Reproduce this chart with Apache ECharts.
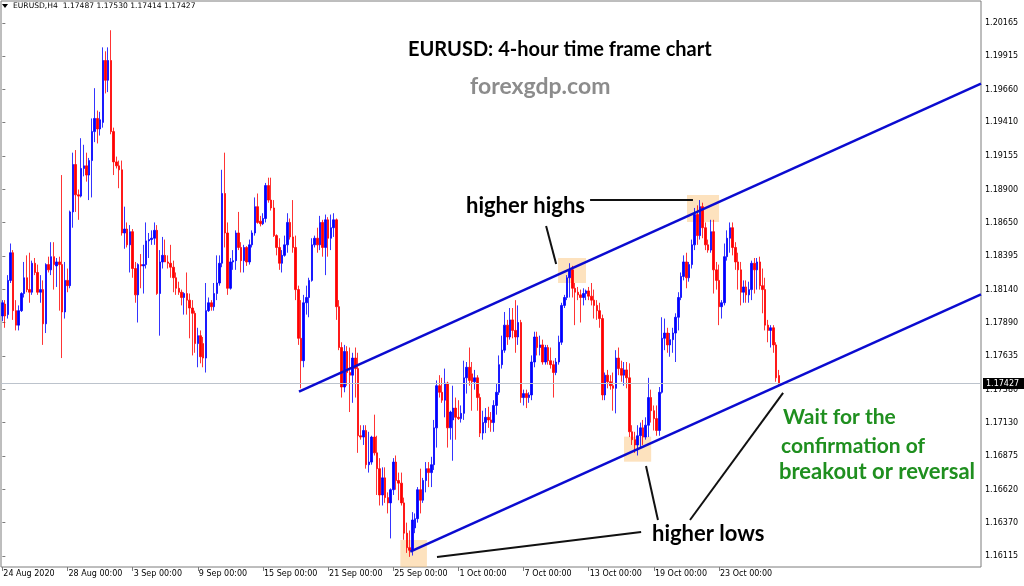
<!DOCTYPE html>
<html><head><meta charset="utf-8">
<script src="https://cdn.jsdelivr.net/npm/echarts@6/dist/echarts.min.js"></script>
<style>html,body{margin:0;padding:0;background:#fff}#c{width:1024px;height:586px}</style>
</head><body><div id="c"></div><script>
// ---- data (EURUSD H4, 24 Aug 2020 00:00 onwards, one value per bar) ----
const opens=[1.1794,1.1803,1.1795,1.1821,1.1842,1.1798,1.1787,1.1798,1.1811,1.1823,
1.1814,1.1812,1.1834,1.1827,1.1812,1.1814,1.1788,1.1833,1.1829,1.1839,
1.1832,1.1835,1.1833,1.1797,1.1821,1.1817,1.1873,1.1909,1.1886,1.1885,
1.1906,1.1908,1.1901,1.1912,1.1934,1.1944,1.1936,1.1941,1.1988,1.1973,
1.1988,1.1934,1.1911,1.1908,1.1905,1.1857,1.1860,1.1848,1.1858,1.1830,
1.1810,1.1833,1.1832,1.1833,1.1851,1.1852,1.1853,1.1859,1.1811,1.1835,
1.1840,1.1835,1.1834,1.1831,1.1823,1.1815,1.1812,1.1808,1.1811,1.1806,
1.1800,1.1796,1.1773,1.1779,1.1773,1.1762,1.1798,1.1804,1.1801,1.1811,
1.1819,1.1834,1.1887,1.1857,1.1815,1.1835,1.1836,1.1857,1.1846,1.1836,
1.1846,1.1835,1.1848,1.1857,1.1877,1.1866,1.1864,1.1868,1.1893,1.1882,
1.1876,1.1855,1.1846,1.1834,1.1840,1.1848,1.1865,1.1854,1.1846,1.1814,
1.1777,1.1760,1.1804,1.1808,1.1821,1.1848,1.1853,1.1848,1.1865,1.1846,
1.1867,1.1853,1.1861,1.1867,1.1801,1.1770,1.1740,1.1767,1.1751,1.1749,
1.1762,1.1754,1.1703,1.1702,1.1707,1.1681,1.1683,1.1702,1.1690,1.1678,
1.1658,1.1671,1.1656,1.1652,1.1662,1.1683,1.1669,1.1667,1.1652,1.1629,
1.1618,1.1616,1.1633,1.1640,1.1662,1.1654,1.1669,1.1678,1.1675,1.1681,
1.1709,1.1741,1.1736,1.1730,1.1743,1.1709,1.1715,1.1724,1.1717,1.1716,
1.1720,1.1747,1.1755,1.1750,1.1744,1.1747,1.1732,1.1705,1.1713,1.1717,
1.1715,1.1713,1.1726,1.1736,1.1757,1.1768,1.1787,1.1778,1.1791,1.1783,
1.1778,1.1789,1.1732,1.1735,1.1732,1.1734,1.1759,1.1778,1.1770,1.1772,
1.1759,1.1770,1.1760,1.1757,1.1751,1.1759,1.1774,1.1802,1.1808,1.1823,
1.1829,1.1815,1.1812,1.1810,1.1808,1.1811,1.1813,1.1809,1.1806,1.1802,
1.1798,1.1792,1.1734,1.1749,1.1744,1.1741,1.1739,1.1762,1.1754,1.1749,
1.1753,1.1747,1.1706,1.1700,1.1696,1.1703,1.1709,1.1702,1.1711,1.1732,
1.1722,1.1716,1.1707,1.1736,1.1777,1.1781,1.1772,1.1776,1.1781,1.1793,
1.1808,1.1824,1.1835,1.1823,1.1833,1.1848,1.1871,1.1855,1.1877,1.1861,
1.1848,1.1844,1.1858,1.1829,1.1821,1.1801,1.1804,1.1839,1.1853,1.1861,
1.1846,1.1835,1.1829,1.1812,1.1816,1.1810,1.1814,1.1834,1.1829,1.1835,
1.1817,1.1814,1.1787,1.1783,1.1785,1.1772,1.17487];
const highs=[1.1806,1.1806,1.1825,1.1849,1.1844,1.1806,1.1802,1.1812,1.1835,1.1840,
1.1842,1.1836,1.1838,1.1833,1.1825,1.1821,1.1834,1.1839,1.1850,1.1850,
1.1838,1.1839,1.1901,1.1835,1.1830,1.1874,1.1918,1.1920,1.1890,1.1929,
1.1924,1.1918,1.1914,1.1944,1.1967,1.1950,1.1949,1.1998,1.1995,1.1998,
1.2011,1.1937,1.1915,1.1912,1.1912,1.1877,1.1865,1.1863,1.1860,1.1835,
1.1834,1.1841,1.1848,1.1865,1.1857,1.1859,1.1865,1.1863,1.1844,1.1854,
1.1852,1.1840,1.1848,1.1836,1.1827,1.1820,1.1814,1.1812,1.1827,1.1811,
1.1806,1.1798,1.1785,1.1783,1.1778,1.1819,1.1808,1.1806,1.1819,1.1840,
1.1840,1.1905,1.1918,1.1865,1.1838,1.1844,1.1859,1.1873,1.1850,1.1848,
1.1847,1.1852,1.1859,1.1884,1.1887,1.1870,1.1872,1.1895,1.1899,1.1899,
1.1882,1.1856,1.1853,1.1844,1.1855,1.1872,1.1868,1.1882,1.1855,1.1817,
1.1806,1.1810,1.1817,1.1823,1.1853,1.1855,1.1861,1.1870,1.1867,1.1871,
1.1869,1.1871,1.1872,1.1868,1.1806,1.1774,1.1772,1.1771,1.1770,1.1766,
1.1770,1.1766,1.1711,1.1711,1.1711,1.1706,1.1703,1.1719,1.1703,1.1686,
1.1679,1.1679,1.1660,1.1663,1.1686,1.1688,1.1675,1.1675,1.1656,1.1637,
1.1631,1.1645,1.1644,1.1664,1.1678,1.1671,1.1683,1.1683,1.1687,1.1715,
1.1745,1.1749,1.1747,1.1754,1.1744,1.1722,1.1741,1.1732,1.1730,1.1726,
1.1760,1.1759,1.1770,1.1759,1.1753,1.1749,1.1735,1.1722,1.1724,1.1725,
1.1721,1.1730,1.1743,1.1764,1.1779,1.1797,1.1791,1.1800,1.1800,1.1806,
1.1802,1.1791,1.1738,1.1738,1.1736,1.1764,1.1782,1.1782,1.1779,1.1776,
1.1772,1.1772,1.1770,1.1760,1.1762,1.1779,1.1804,1.1810,1.1825,1.1834,
1.1832,1.1819,1.1816,1.1814,1.1815,1.1814,1.1816,1.1819,1.1814,1.1806,
1.1804,1.1795,1.1751,1.1753,1.1749,1.1751,1.1768,1.1770,1.1760,1.1759,
1.1759,1.1758,1.1711,1.1706,1.1711,1.1713,1.1715,1.1717,1.1747,1.1738,
1.1726,1.1726,1.1740,1.1793,1.1792,1.1785,1.1781,1.1785,1.1796,1.1812,
1.1827,1.1840,1.1842,1.1835,1.1852,1.1876,1.1878,1.1882,1.1880,1.1865,
1.1852,1.1867,1.1867,1.1835,1.1833,1.1806,1.1849,1.1859,1.1865,1.1865,
1.1850,1.1842,1.1835,1.1821,1.1821,1.1820,1.1836,1.1838,1.1838,1.1839,
1.1830,1.1823,1.1791,1.1787,1.1787,1.1774,1.17530];
const lows=[1.1790,1.1785,1.1792,1.1819,1.1791,1.1783,1.1783,1.1797,1.1808,1.1812,
1.1804,1.1810,1.1825,1.1810,1.1804,1.1772,1.1781,1.1827,1.1825,1.1814,
1.1816,1.1798,1.1762,1.1792,1.1812,1.1815,1.1861,1.1873,1.1867,1.1884,
1.1900,1.1896,1.1882,1.1884,1.1926,1.1925,1.1931,1.1937,1.1963,1.1964,
1.1932,1.1901,1.1906,1.1891,1.1855,1.1845,1.1846,1.1827,1.1823,1.1804,
1.1789,1.1815,1.1811,1.1830,1.1838,1.1848,1.1848,1.1810,1.1779,1.1830,
1.1835,1.1830,1.1823,1.1812,1.1810,1.1810,1.1802,1.1795,1.1795,1.1777,
1.1764,1.1766,1.1755,1.1758,1.1755,1.1751,1.1797,1.1798,1.1798,1.1806,
1.1817,1.1831,1.1846,1.1810,1.1814,1.1829,1.1829,1.1844,1.1827,1.1827,
1.1832,1.1833,1.1846,1.1855,1.1864,1.1862,1.1863,1.1865,1.1880,1.1874,
1.1854,1.1840,1.1829,1.1827,1.1839,1.1842,1.1852,1.1842,1.1806,1.1772,
1.1739,1.1755,1.1795,1.1793,1.1820,1.1846,1.1842,1.1844,1.1839,1.1825,
1.1839,1.1844,1.1854,1.1791,1.1768,1.1732,1.1736,1.1741,1.1721,1.1728,
1.1732,1.1690,1.1700,1.1696,1.1678,1.1675,1.1681,1.1688,1.1658,1.1650,
1.1650,1.1652,1.1644,1.1625,1.1658,1.1662,1.1654,1.1650,1.1624,1.1614,
1.1611,1.1612,1.1629,1.1637,1.1644,1.1652,1.1660,1.1664,1.1664,1.1677,
1.1694,1.1732,1.1728,1.1717,1.1694,1.1700,1.1684,1.1700,1.1715,1.1713,
1.1715,1.1735,1.1741,1.1722,1.1738,1.1722,1.1702,1.1700,1.1705,1.1709,
1.1706,1.1706,1.1719,1.1734,1.1754,1.1766,1.1772,1.1776,1.1777,1.1766,
1.1772,1.1728,1.1726,1.1724,1.1728,1.1730,1.1755,1.1764,1.1764,1.1757,
1.1757,1.1757,1.1754,1.1732,1.1749,1.1757,1.1772,1.1800,1.1806,1.1808,
1.1808,1.1787,1.1806,1.1789,1.1802,1.1806,1.1806,1.1802,1.1792,1.1791,
1.1785,1.1730,1.1730,1.1739,1.1738,1.1722,1.1720,1.1749,1.1744,1.1741,
1.1739,1.1702,1.1696,1.1690,1.1688,1.1694,1.1696,1.1700,1.1702,1.1713,
1.1707,1.1703,1.1703,1.1735,1.1768,1.1766,1.1763,1.1766,1.1759,1.1783,
1.1806,1.1821,1.1815,1.1820,1.1830,1.1844,1.1848,1.1852,1.1853,1.1844,
1.1842,1.1842,1.1811,1.1814,1.1787,1.1792,1.1802,1.1836,1.1842,1.1840,
1.1829,1.1814,1.1802,1.1804,1.1804,1.1804,1.1806,1.1811,1.1814,1.1814,
1.1796,1.1783,1.1774,1.1770,1.1766,1.1744,1.17414];
const closes=[1.1804,1.1794,1.1821,1.1842,1.1798,1.1787,1.1798,1.1811,1.1823,1.1814,
1.1812,1.1834,1.1827,1.1812,1.1814,1.1788,1.1833,1.1829,1.1839,1.1833,
1.1835,1.1833,1.1797,1.1821,1.1817,1.1873,1.1909,1.1886,1.1885,1.1906,
1.1908,1.1901,1.1912,1.1934,1.1944,1.1936,1.1943,1.1988,1.1973,1.1988,
1.1934,1.1911,1.1908,1.1905,1.1857,1.1860,1.1848,1.1858,1.1830,1.1810,
1.1833,1.1832,1.1833,1.1851,1.1852,1.1853,1.1859,1.1811,1.1835,1.1840,
1.1835,1.1834,1.1831,1.1823,1.1815,1.1812,1.1808,1.1811,1.1806,1.1800,
1.1796,1.1773,1.1779,1.1763,1.1762,1.1798,1.1804,1.1801,1.1811,1.1819,
1.1834,1.1887,1.1857,1.1815,1.1835,1.1836,1.1857,1.1846,1.1836,1.1846,
1.1835,1.1848,1.1857,1.1877,1.1865,1.1864,1.1868,1.1893,1.1882,1.1876,
1.1855,1.1846,1.1834,1.1840,1.1848,1.1865,1.1854,1.1846,1.1814,1.1777,
1.1760,1.1804,1.1808,1.1821,1.1848,1.1853,1.1848,1.1865,1.1846,1.1867,
1.1853,1.1861,1.1867,1.1801,1.1770,1.1740,1.1767,1.1751,1.1749,1.1762,
1.1754,1.1703,1.1702,1.1707,1.1681,1.1683,1.1702,1.1690,1.1678,1.1658,
1.1671,1.1656,1.1652,1.1662,1.1683,1.1669,1.1667,1.1652,1.1629,1.1618,
1.1616,1.1639,1.1640,1.1662,1.1654,1.1669,1.1678,1.1675,1.1681,1.1709,
1.1741,1.1736,1.1730,1.1743,1.1709,1.1721,1.1724,1.1717,1.1716,1.1720,
1.1747,1.1755,1.1745,1.1744,1.1747,1.1732,1.1705,1.1713,1.1717,1.1715,
1.1713,1.1726,1.1736,1.1757,1.1768,1.1787,1.1778,1.1791,1.1783,1.1778,
1.1789,1.1732,1.1735,1.1732,1.1734,1.1759,1.1778,1.1770,1.1772,1.1759,
1.1770,1.1760,1.1757,1.1751,1.1759,1.1774,1.1802,1.1808,1.1823,1.1829,
1.1815,1.1812,1.1810,1.1808,1.1811,1.1813,1.1809,1.1806,1.1802,1.1798,
1.1792,1.1734,1.1749,1.1744,1.1741,1.1739,1.1762,1.1754,1.1749,1.1753,
1.1747,1.1706,1.1700,1.1696,1.1703,1.1709,1.1702,1.1711,1.1732,1.1722,
1.1716,1.1707,1.1736,1.1777,1.1781,1.1772,1.1776,1.1781,1.1793,1.1808,
1.1824,1.1835,1.1823,1.1833,1.1848,1.1871,1.1855,1.1877,1.1861,1.1848,
1.1844,1.1858,1.1829,1.1821,1.1801,1.1804,1.1839,1.1853,1.1861,1.1846,
1.1835,1.1829,1.1812,1.1816,1.1810,1.1814,1.1834,1.1829,1.1835,1.1817,
1.1814,1.1787,1.1783,1.1785,1.1772,1.1747,1.17427];

const slotCount = 361;               // bar slots across the chart (incl. empty chart shift)
const dateTickIdx = [0,24,48,72,96,120,144,168,192,216,240,264];
const dateTickLabels = ["24 Aug 2020","28 Aug 00:00","3 Sep 00:00","9 Sep 00:00","15 Sep 00:00","21 Sep 00:00","25 Sep 00:00","1 Oct 00:00","7 Oct 00:00","13 Oct 00:00","19 Oct 00:00","23 Oct 00:00"];
const priceTicks = [1.20165,1.19915,1.19660,1.19410,1.19155,1.18900,1.18650,1.18395,1.18140,1.17890,1.17635,1.17380,1.17130,1.16875,1.16620,1.16370,1.16115];
const priceMin = 1.16033, priceMax = 1.20332;
const lastPrice = 1.17427;
const headerText = "EURUSD,H4  1.17487 1.17530 1.17414 1.17427";

// annotation geometry in (bar index, price)
const upperChannel = [[109.27,1.17365],[360.5,1.19705]];
const lowerChannel = [[150.27,1.16149],[360.5,1.18103]];
const pointerHighs1 = [[216.5,1.18821],[254.4,1.18821]];
const pointerHighs2 = [[200.3,1.18623],[204.0,1.18335]];
const pointerLows1 = [[160.1,1.16109],[235.3,1.16299]];
const pointerLows2 = [[237.1,1.16800],[241.5,1.16390]];
const pointerLows3 = [[253.3,1.16390],[287.6,1.17355]];
const boxes = [
  [[204.7,1.18380],[215.0,1.18190]],
  [[252.2,1.18859],[264.0,1.18654]],
  [[229.0,1.17023],[239.0,1.16833]],
  [[146.6,1.16238],[156.4,1.16033]]
];

// ---- build ----
const categories = Array.from({length: slotCount}, (_, i) => String(i));
const candles = opens.map((o, i) => [o, closes[i], lows[i], highs[i]]);
const labelAt = {};
dateTickIdx.forEach((t, k) => { labelAt[t] = dateTickLabels[k]; });
const isTick = (idx) => labelAt[idx] !== undefined;

const small = 'DejaVu Sans';

function seg(data, color, width) {
  return {type:'line', xAxisIndex:1, yAxisIndex:0, data:data, showSymbol:false, symbol:'none',
    silent:true, animation:false, z:5, lineStyle:{color:color, width:width}};
}

const chart = echarts.init(document.getElementById('c'), null, {renderer:'canvas'});
chart.setOption({
  animation:false,
  backgroundColor:'#ffffff',
  grid:{left:1, top:1, width:980, height:566, show:true, borderColor:'#7c7c7c', borderWidth:1, backgroundColor:'#ffffff'},
  xAxis:[
    {type:'category', data:categories, boundaryGap:true,
      axisLine:{show:false},
      axisTick:{show:true, interval:(i)=>isTick(i), alignWithLabel:true, length:4, lineStyle:{color:'#7c7c7c'}},
      axisLabel:{show:true, interval:(i)=>isTick(i), formatter:(v,i)=>labelAt[i]||'', align:'left',
        margin:3, padding:[0,0,0,1], fontFamily:small, fontSize:8, color:'#000'},
      splitLine:{show:false}},
    {type:'value', min:-0.5, max:slotCount-0.5, show:false}
  ],
  yAxis:[{type:'value', position:'right', min:priceMin, max:priceMax, scale:true,
    axisLine:{show:false},
    axisTick:{show:true, customValues:priceTicks, length:3, lineStyle:{color:'#7c7c7c'}},
    axisLabel:{show:true, customValues:priceTicks, formatter:(v)=>Number(v).toFixed(5), margin:4,
      fontFamily:small, fontSize:8, color:'#000'},
    splitLine:{show:false}}],
  series:[
    {type:'line', xAxisIndex:1, yAxisIndex:0, data:[], silent:true, z:2,
      markLine:{silent:true, symbol:'none', animation:false, precision:5,
        lineStyle:{color:'#bcc3cc', width:1, type:'solid'},
        label:{show:true, position:'end', distance:2, formatter:lastPrice.toFixed(5), backgroundColor:'#000',
          color:'#fff', fontFamily:small, fontSize:8, padding:[2,5,1,3]},
        data:[{yAxis:lastPrice}]}},
    {type:'candlestick', xAxisIndex:0, yAxisIndex:0, data:candles, barWidth:2, z:3,
      itemStyle:{color:'#0000ff', color0:'#ff0000', borderColor:'#0000ff', borderColor0:'#ff0000', borderWidth:0.8}
    },
    {type:'line', xAxisIndex:1, yAxisIndex:0, data:[], silent:true, z:4,
      markArea:{silent:true, itemStyle:{color:'rgba(251,197,125,0.5)'},
        data: boxes.map(b => [{coord:b[0]}, {coord:b[1]}])}},
    seg(upperChannel, '#0b0bd0', 2.5),
    seg(lowerChannel, '#0b0bd0', 2.5),
    seg(pointerHighs1, '#111', 2),
    seg(pointerHighs2, '#111', 2),
    seg(pointerLows1, '#111', 2),
    seg(pointerLows2, '#111', 2),
    seg(pointerLows3, '#111', 2)
  ],
  graphic:[
    {type:'polygon', shape:{points:[[2,4],[8,4],[5,8]]}, style:{fill:'#000'}},
    {type:'text', x:13, y:6, style:{text:headerText, font:'7.6px "DejaVu Sans"', fill:'#000', textVerticalAlign:'middle'}},
    {type:'text', x:408, y:50, style:{text:'EURUSD: 4-hour time frame chart', font:'bold 20px Lato', fill:'#000', textVerticalAlign:'middle'}},
    {type:'text', x:470, y:87, style:{text:'forexgdp.com', font:'bold 23px Lato', fill:'#8c8c8c', textVerticalAlign:'middle'}},
    {type:'text', x:466, y:206, style:{text:'higher highs', font:'bold 22px Lato', fill:'#000', textVerticalAlign:'middle'}},
    {type:'text', x:652, y:534, style:{text:'higher lows', font:'bold 22px Lato', fill:'#000', textVerticalAlign:'middle'}},
    {type:'text', x:783, y:417, style:{text:'Wait for the', font:'bold 21px Lato', fill:'#1f8f1f', textVerticalAlign:'middle'}},
    {type:'text', x:781, y:446, style:{text:'confirmation of', font:'bold 21px Lato', fill:'#1f8f1f', textVerticalAlign:'middle'}},
    {type:'text', x:779, y:472, style:{text:'breakout or reversal', font:'bold 22px Lato', fill:'#1f8f1f', textVerticalAlign:'middle'}}
  ]
});
</script></body></html>
